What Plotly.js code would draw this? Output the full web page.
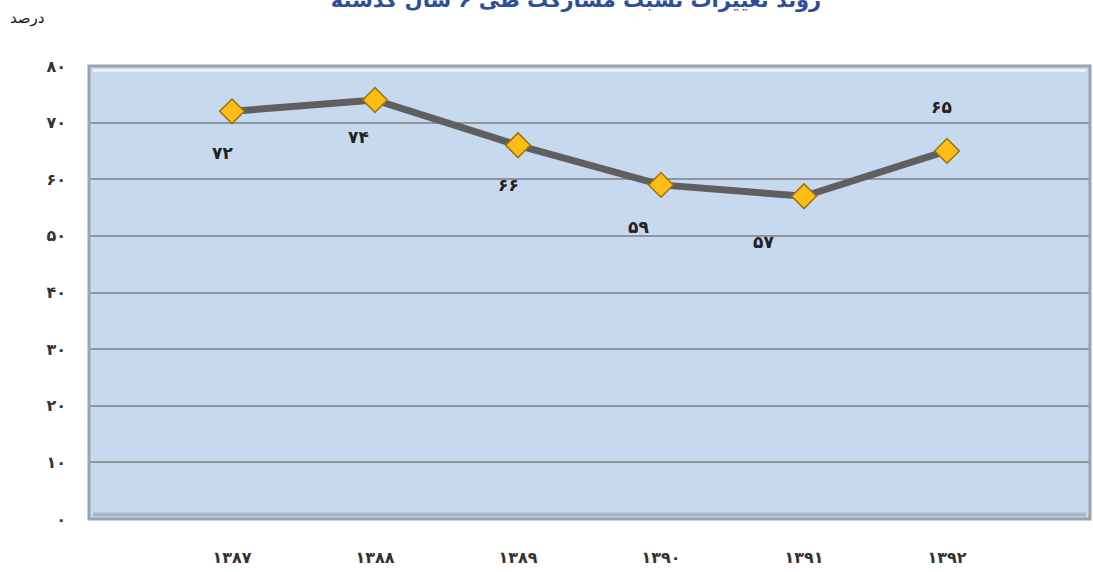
<!DOCTYPE html>
<html>
<head>
<meta charset="utf-8">
<script src="https://cdn.plot.ly/plotly-3.0.1.min.js"></script>
<style>html,body{margin:0;padding:0;background:#fff;}#chart{width:1093px;height:572px;}</style>
</head>
<body>
<div id="chart"></div>
<script>
// Data
const years = ['۱۳۸۷', '۱۳۸۸', '۱۳۸۹', '۱۳۹۰', '۱۳۹۱', '۱۳۹۲'];
const values = [72, 74, 66, 59, 57, 65];
const valueLabels = ['۷۲', '۷۴', '۶۶', '۵۹', '۵۷', '۶۵'];
const yTickVals = [0, 10, 20, 30, 40, 50, 60, 70, 80];
const yTickText = ['۰', '۱۰', '۲۰', '۳۰', '۴۰', '۵۰', '۶۰', '۷۰', '۸۰'];
const titleText = 'روند تغییرات نسبت مشارکت طی ۶ سال گذشته';
const unitText = 'درصد';

// label offsets (px) — style only
const labelOffsets = [[-10, 42], [-17, 37], [-10, 40], [-23, 42], [-41, 46], [-6, -44]];

const xIdx = years.map((_, i) => i);

const trace = {
  x: xIdx,
  y: values,
  type: 'scatter',
  mode: 'lines+markers',
  line: {color: '#5f5f5f', width: 7},
  marker: {symbol: 'diamond', size: 19, color: '#fdbc16', line: {color: '#9a7412', width: 1.5}},
  hoverinfo: 'skip'
};

const annotations = values.map((v, i) => ({
  x: xIdx[i], y: v, xref: 'x', yref: 'y',
  text: valueLabels[i], showarrow: true, arrowcolor: 'rgba(0,0,0,0)',
  ax: labelOffsets[i][0], ay: labelOffsets[i][1],
  font: {family: 'DejaVu Sans', size: 17, color: '#222', weight: 'bold'}
}));
annotations.push({
  xref: 'paper', yref: 'paper', x: -0.081, y: 1.105, xanchor: 'left', yanchor: 'middle',
  text: unitText, showarrow: false, font: {family: 'DejaVu Sans', size: 15, color: '#111'}
});

const layout = {
  width: 1093, height: 572,
  margin: {l: 89, r: 3, t: 66, b: 53},
  paper_bgcolor: '#ffffff',
  plot_bgcolor: '#c6d9ef',
  showlegend: false,
  title: {
    text: titleText, x: 0.527, xanchor: 'center', y: 1.0, yref: 'container', yanchor: 'middle',
    font: {family: 'DejaVu Sans', size: 21, color: '#2e4f9b', weight: 'bold'}
  },
  xaxis: {
    range: [-1, 6], tickvals: xIdx, ticktext: years, showgrid: false, zeroline: false,
    ticks: '', ticklabelstandoff: 27, showline: false,
    tickfont: {family: 'DejaVu Sans', size: 16, color: '#333', weight: 'bold'}
  },
  yaxis: {
    range: [0, 80], tickvals: yTickVals, ticktext: yTickText, showgrid: true,
    gridcolor: '#8e959c', gridwidth: 2, zeroline: false, ticks: '', ticklabelstandoff: 22,
    tickfont: {family: 'DejaVu Sans', size: 16, color: '#333', weight: 'bold'}
  },
  shapes: [
    {type: 'rect', xref: 'paper', yref: 'paper', x0: 0, x1: 1, y0: 0, y1: 1,
     line: {color: '#9aa3ae', width: 3}, layer: 'above'},
    {type: 'line', xref: 'paper', yref: 'paper', x0: 0.004, x1: 0.996, y0: 0.99, y1: 0.99,
     line: {color: '#e6eef8', width: 3}, layer: 'below'},
    {type: 'line', xref: 'paper', yref: 'paper', x0: 0.004, x1: 0.996, y0: 0.01, y1: 0.01,
     line: {color: '#a9b6c6', width: 4}, layer: 'below'}
  ],
  annotations: annotations
};

Plotly.newPlot('chart', [trace], layout, {displayModeBar: false, staticPlot: true});
</script>
</body>
</html>
